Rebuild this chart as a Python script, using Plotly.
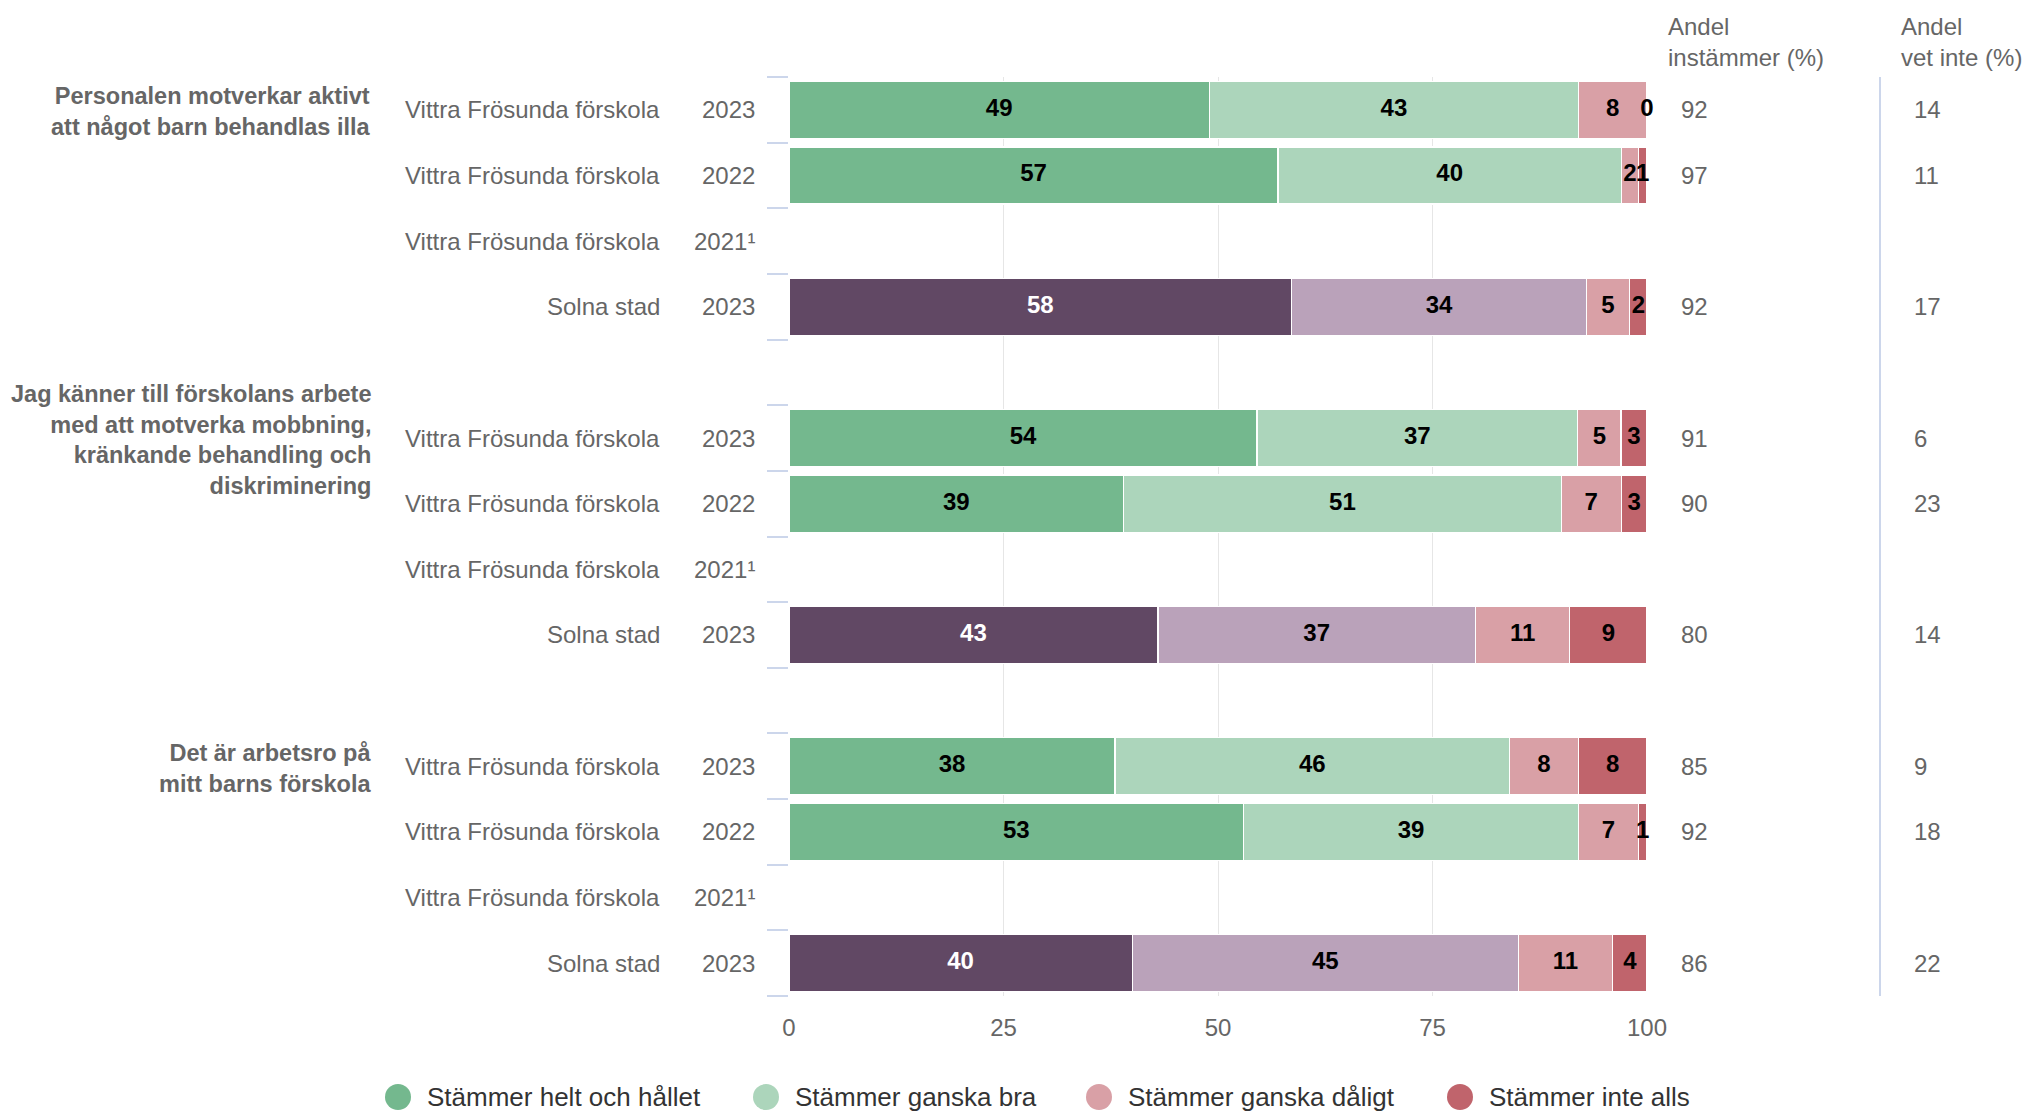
import plotly.graph_objects as go

# ---------------- data ----------------
questions = [
    "Personalen motverkar aktivt<br>att något barn behandlas illa",
    "Jag känner till förskolans arbete<br>med att motverka mobbning,<br>kränkande behandling och<br>diskriminering",
    "Det är arbetsro på<br>mitt barns förskola",
]
units = ["Vittra Frösunda förskola", "Vittra Frösunda förskola", "Vittra Frösunda förskola", "Solna stad"]
years = ["2023", "2022", "2021¹", "2023"]

series_names = ["Stämmer helt och hållet", "Stämmer ganska bra", "Stämmer ganska dåligt", "Stämmer inte alls"]

# rows: question 1 (4 rows), question 2 (4 rows), question 3 (4 rows)
helt_och_hallet = [49, 57, None, 58, 54, 39, None, 43, 38, 53, None, 40]
ganska_bra = [43, 40, None, 34, 37, 51, None, 37, 46, 39, None, 45]
ganska_daligt = [8, 2, None, 5, 5, 7, None, 11, 8, 7, None, 11]
inte_alls = [0, 1, None, 2, 3, 3, None, 9, 8, 1, None, 4]

andel_instammer = [92, 97, None, 92, 91, 90, None, 80, 85, 92, None, 86]
andel_vet_inte = [14, 11, None, 17, 6, 23, None, 14, 9, 18, None, 22]

col_headers = ["Andel<br>instämmer (%)", "Andel<br>vet inte (%)"]
x_ticks = [0, 25, 50, 75, 100]

# ---------------- styles ----------------
school_colors = ["#74b88e", "#acd5bb", "#d9a0a6", "#c0646c"]
city_colors = ["#614864", "#baa2ba", "#d9a0a6", "#c0646c"]
FONT = "Liberation Sans, Arial, sans-serif"
GRAY = "#666666"

W, H = 2040, 1114
ML, MR, MT, MB = 789, 393, 77, 118
PW = W - ML - MR
PH = H - MT - MB


def pxx(xp):
    return (xp - ML) / PW


def pxy(yp):
    return 1 - (yp - MT) / PH


# ---------------- row layout ----------------
n_per_group = len(units)
slots, row_units, row_years = [], [], []
for g in range(len(questions)):
    for j in range(n_per_group):
        slots.append(g * (n_per_group + 1) + j)
        row_units.append(units[j])
        row_years.append(years[j])
last_slot = slots[-1]
is_city = [u == "Solna stad" for u in row_units]

all_series = [helt_och_hallet, ganska_bra, ganska_daligt, inte_alls]

fig = go.Figure()

# bars
for k, (name, vals) in enumerate(zip(series_names, all_series)):
    colors = [city_colors[k] if c else school_colors[k] for c in is_city]
    fig.add_trace(go.Bar(
        name=name, x=vals, y=slots, orientation="h",
        marker=dict(color=colors, line=dict(color="white", width=1.3)),
        width=0.87, showlegend=False,
        hovertemplate=name + ": %{x:.0f}<extra></extra>",
    ))

# data labels (centre of each normalised segment)
for k, (name, vals) in enumerate(zip(series_names, all_series)):
    xs, ys, ts, cs = [], [], [], []
    for i in range(len(slots)):
        row = [s[i] for s in all_series]
        if row[0] is None:
            continue
        total = sum(row)
        cum = sum(row[:k])
        xs.append((cum + row[k] / 2) / total * 100)
        ys.append(slots[i])
        ts.append(str(row[k]))
        cs.append("#ffffff" if (k == 0 and is_city[i]) else "#000000")
    fig.add_trace(go.Scatter(
        x=xs, y=ys, text=ts, mode="text", textposition="middle center",
        textfont=dict(family=FONT, size=24, color=cs, weight="bold"),
        showlegend=False, hoverinfo="skip", cliponaxis=False,
    ))

annotations = []
# group labels
for g, q in enumerate(questions):
    annotations.append(dict(
        x=pxx(373), xref="paper", xanchor="right", y=g * (n_per_group + 1), yref="y", yanchor="middle",
        yshift=-2, text="<b>" + q + "</b>", align="right", showarrow=False,
        font=dict(family=FONT, size=23.5, color=GRAY)))
# unit and year labels, side columns
for i, s in enumerate(slots):
    annotations.append(dict(
        x=pxx(662), xref="paper", xanchor="right", y=s, yref="y", yanchor="middle",
        text=row_units[i], showarrow=False, font=dict(family=FONT, size=24, color=GRAY)))
    annotations.append(dict(
        x=pxx(757), xref="paper", xanchor="right", y=s, yref="y", yanchor="middle",
        text=row_years[i], showarrow=False, font=dict(family=FONT, size=24, color=GRAY)))
    if andel_instammer[i] is not None:
        annotations.append(dict(
            x=pxx(1679), xref="paper", xanchor="left", y=s, yref="y", yanchor="middle",
            text=str(andel_instammer[i]), showarrow=False, font=dict(family=FONT, size=24, color=GRAY)))
    if andel_vet_inte[i] is not None:
        annotations.append(dict(
            x=pxx(1912), xref="paper", xanchor="left", y=s, yref="y", yanchor="middle",
            text=str(andel_vet_inte[i]), showarrow=False, font=dict(family=FONT, size=24, color=GRAY)))
# column headers
for hx, htxt in zip([1666, 1899], col_headers):
    annotations.append(dict(
        x=pxx(hx), xref="paper", xanchor="left", y=pxy(42), yref="paper", yanchor="middle",
        text=htxt, align="left", showarrow=False, font=dict(family=FONT, size=24, color=GRAY)))

shapes = [dict(type="line", xref="paper", yref="paper", x0=pxx(1880), x1=pxx(1880), y0=0, y1=1,
               line=dict(color="#ccd6eb", width=2))]

# manual legend (circle swatches)
legend_sym_x = [398, 766, 1099, 1460]
legend_y = pxy(1097)
for k, name in enumerate(series_names):
    shapes.append(dict(type="circle", xref="paper", yref="paper", xsizemode="pixel", ysizemode="pixel",
                       xanchor=pxx(legend_sym_x[k]), yanchor=legend_y, x0=-13, x1=13, y0=-13, y1=13,
                       fillcolor=school_colors[k], line=dict(width=0)))
    annotations.append(dict(
        x=pxx(legend_sym_x[k] + 27), xref="paper", xanchor="left", y=legend_y, yref="paper", yanchor="middle",
        text=name, showarrow=False, font=dict(family=FONT, size=26, color="#333333")))

fig.update_layout(
    width=W, height=H,
    margin=dict(l=ML, r=MR, t=MT, b=MB, pad=0),
    paper_bgcolor="white", plot_bgcolor="white",
    barmode="stack", barnorm="percent",
    showlegend=False,
    font=dict(family=FONT, size=24, color=GRAY),
    xaxis=dict(range=[0, 100], tickvals=x_ticks, showgrid=True, gridcolor="#e6e6e6", gridwidth=1.3,
               zeroline=False, showline=False, ticks="", ticklabelstandoff=15,
               tickfont=dict(family=FONT, size=24, color=GRAY), fixedrange=True),
    yaxis=dict(range=[last_slot + 0.5, -0.5], tickvals=[b - 0.5 for b in range(last_slot + 2)],
               ticktext=[""] * (last_slot + 2), showticklabels=False,
               ticks="outside", ticklen=21, tickwidth=2, tickcolor="#ccd6eb",
               showgrid=False, zeroline=False, showline=False, fixedrange=True),
    annotations=annotations, shapes=shapes,
)

fig.write_html(
    "out.html",
    config={"displayModeBar": False},
    post_script="document.body.style.margin='0';document.body.style.overflow='hidden';",
)
